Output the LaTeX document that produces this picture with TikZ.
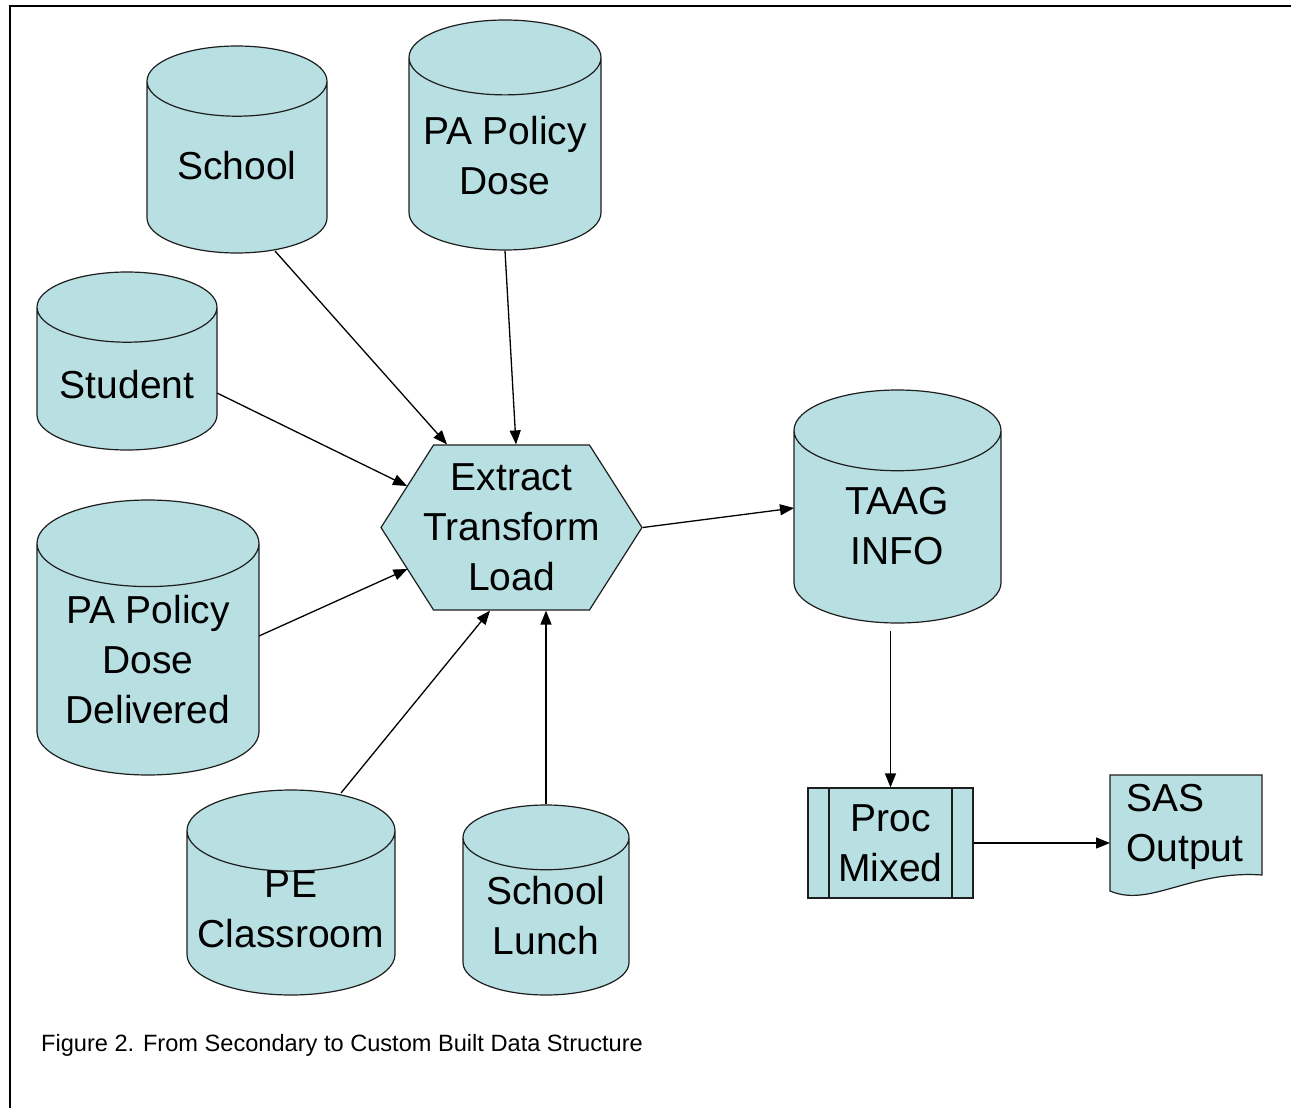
\documentclass[tikz,border=0pt]{standalone}
\usepackage{fontspec}
\setmainfont{Liberation Sans}
\usetikzlibrary{shapes.geometric,shapes.symbols,arrows.meta,calc}

\definecolor{dbfill}{RGB}{184,223,226}
\definecolor{edgegray}{RGB}{30,30,30}
\newcommand\dbfont{\fontsize{39}{50}\selectfont}

\tikzset{
  db/.style={cylinder, shape border rotate=90, aspect=0.39, draw=edgegray,
    line width=1.2pt, fill=dbfill, inner sep=0pt, anchor=shape center},
  dbtext/.style={inner sep=0pt, align=center, font=\dbfont},
  flow/.style={-{Triangle[length=14pt,width=11pt]}, line width=1.3pt}
}

\begin{document}
\begin{tikzpicture}[x=1pt,y=-1pt]
  \useasboundingbox (0,0) rectangle (1291,1108);
  \draw[line width=2.5pt] (10,1108) -- (10,6) -- (1291,6);

  % data sources
  \node[db, minimum height=207pt] (school) at (237,149.5) {\hspace*{180pt}};
  \node[dbtext] (school-text) at ([yshift=-16.5pt]school.shape center) {School};
  \node[db, minimum height=230pt] (padose) at (505,135) {\hspace*{192pt}};
  \node[dbtext] (padose-text) at ([yshift=-21pt]padose.shape center) {PA Policy\\Dose};
  \node[db, minimum height=178pt] (student) at (127,361) {\hspace*{180pt}};
  \node[dbtext] (student-text) at ([yshift=-24pt]student.shape center) {Student};
  \node[db, minimum height=275pt] (padd) at (148,637.5) {\hspace*{222pt}};
  \node[dbtext] (padd-text) at ([yshift=-22.5pt]padd.shape center) {PA Policy\\Dose\\Delivered};
  \node[db, minimum height=205pt] (pe) at (291,892.5) {\hspace*{208pt}};
  \node[dbtext] (pe-text) at ([yshift=-16.5pt]pe.shape center) {PE\\Classroom};
  \node[db, minimum height=190pt] (lunch) at (546,900) {\hspace*{166pt}};
  \node[dbtext] (lunch-text) at ([yshift=-16pt]lunch.shape center) {School\\Lunch};

  % etl step
  \node[signal, signal to=east and west, signal pointer angle=115, draw=edgegray,
    line width=1.2pt, fill=dbfill, inner ysep=0pt, inner xsep=-10.5pt, minimum width=261pt,
    minimum height=165pt, align=center, font=\dbfont] (etl) at (511.5,527.5) {Extract\\Transform\\Load};

  \node[db, minimum height=233pt] (taag) at (897.5,506.5) {\hspace*{207pt}};
  \node[dbtext] (taag-text) at ([yshift=-20pt]taag.shape center) {TAAG\\INFO};

  \node[rectangle, draw=edgegray, line width=1.2pt, fill=dbfill, inner sep=0pt,
    minimum width=165pt, minimum height=110pt, align=center, font=\dbfont,
    path picture={\draw[edgegray, line width=1.2pt]
      ([xshift=21pt]path picture bounding box.north west) -- ([xshift=21pt]path picture bounding box.south west)
      ([xshift=-21pt]path picture bounding box.north east) -- ([xshift=-21pt]path picture bounding box.south east);}]
    (proc) at (890.5,843) {Proc\\Mixed};

  % sas output
  \filldraw[fill=dbfill, draw=edgegray, line width=1.2pt]
    (1110,775) -- (1262,775) -- (1262,875) .. controls (1190,870) and (1150,908) .. (1110,891) -- cycle;
  \node[inner sep=0pt, minimum width=152pt, minimum height=103pt, text width=120pt,
    align=left, anchor=north west, font=\dbfont] (sas) at (1110,775) {SAS\\Output};

  \draw[flow] ($(school.shape center)+(38,101.5)$) -- ([xshift=-64.5pt]etl.north);
  \draw[flow] (padose.south) -- ([xshift=4.5pt]etl.north);
  \draw[flow] ($(student.shape center)+(90,32)$) -- ($(etl.center)+(-104.5,-41.5)$);
  \draw[flow] ($(padd.shape center)+(111,-1.5)$) -- ($(etl.center)+(-104,41.5)$);
  \draw[flow] ($(pe.shape center)+(50,-99.5)$) -- ([xshift=-21.5pt]etl.south);
  \draw[flow] (lunch.north) -- ([xshift=34.5pt]etl.south);
  \draw[flow] (etl.east) -- ($(taag.shape center)+(-103.5,1.5)$);
  \draw[flow, shorten <=7pt] (taag.south -| proc.north) -- (proc.north);
  \draw[flow] (proc.east) -- (proc.east -| sas.west);

  \node[anchor=base west, inner sep=0pt, font=\fontsize{23.6}{28}\selectfont] (caption) at (41,1051)
    {Figure 2. From Secondary to Custom Built Data Structure};
\end{tikzpicture}
\end{document}
